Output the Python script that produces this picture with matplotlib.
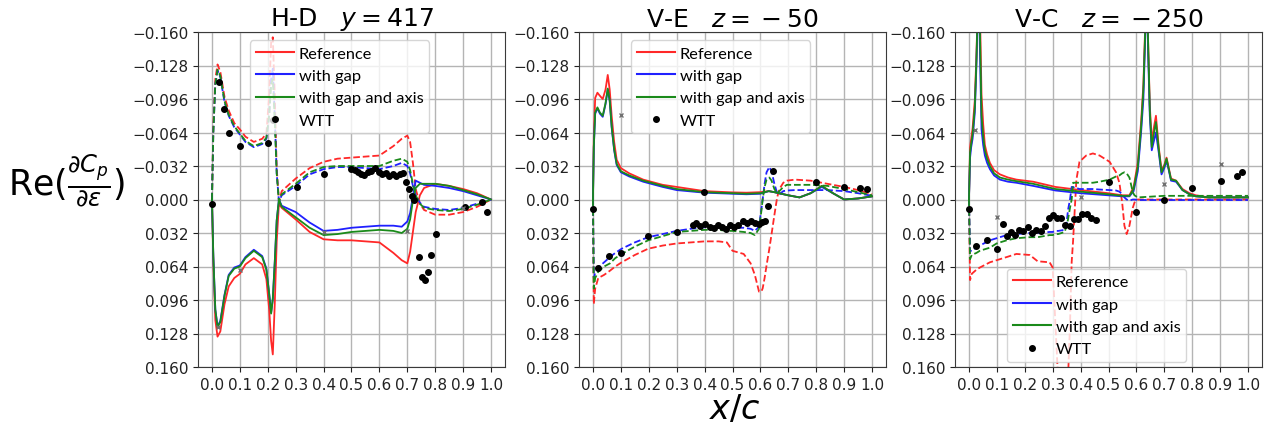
import matplotlib
matplotlib.use("Agg")
import matplotlib.pyplot as plt
from matplotlib.lines import Line2D
from matplotlib.ticker import FixedLocator, FuncFormatter

# ---------------------------------------------------------------- axis setup
yticks = [-0.16, -0.128, -0.096, -0.064, -0.032, 0.0, 0.032, 0.064, 0.096, 0.128, 0.16]
xticks = [0.0, 0.1, 0.2, 0.3, 0.4, 0.5, 0.6, 0.7, 0.8, 0.9, 1.0]
titles = [r"H-D   $y=417$", r"V-E   $z={}-50$", r"V-C   $z={}-250$"]
legend_labels = ["Reference", "with gap", "with gap and axis", "WTT"]

# ---------------------------------------------------------------- H-D, y = 417
hd_x_lower = [0.0, 0.005, 0.012, 0.02, 0.03, 0.045, 0.06, 0.08, 0.10, 0.12, 0.15, 0.18,
              0.195, 0.205, 0.212, 0.218, 0.225, 0.232, 0.24, 0.25, 0.3, 0.35, 0.4, 0.45,
              0.5, 0.55, 0.6, 0.65, 0.68, 0.70, 0.71, 0.72, 0.73, 0.745, 0.76, 0.8, 0.85,
              0.9, 0.95, 1.0]
hd_ref_lower = [0.0, 0.06, 0.115, 0.131, 0.126, 0.100, 0.083, 0.075, 0.071, 0.062, 0.056, 0.062,
                0.076, 0.105, 0.135, 0.148, 0.10, 0.04, 0.004, 0.008, 0.019, 0.031, 0.038, 0.039,
                0.039, 0.040, 0.041, 0.051, 0.058, 0.061, 0.050, 0.031, 0.012, -0.004, -0.011,
                -0.015, -0.013, -0.010, -0.006, 0.0]
hd_gap_lower = [0.0, 0.055, 0.105, 0.121, 0.116, 0.091, 0.072, 0.065, 0.063, 0.055, 0.048, 0.054,
                0.066, 0.09, 0.108, 0.095, 0.06, 0.02, 0.0, 0.006, 0.012, 0.022, 0.030, 0.029,
                0.027, 0.026, 0.025, 0.025, 0.026, 0.021, 0.013, -0.003, -0.018, -0.016, -0.014,
                -0.013, -0.011, -0.008, -0.004, 0.0]
hd_axis_lower = [0.0, 0.055, 0.105, 0.122, 0.117, 0.092, 0.073, 0.066, 0.064, 0.056, 0.049, 0.055,
                 0.067, 0.09, 0.109, 0.095, 0.06, 0.02, 0.0, 0.007, 0.017, 0.027, 0.034, 0.033,
                 0.031, 0.030, 0.029, 0.030, 0.032, 0.028, 0.019, 0.001, -0.011, -0.015, -0.015,
                 -0.015, -0.013, -0.009, -0.005, 0.0]

hd_x_upper = hd_x_lower
hd_ref_upper = [0.0, -0.07, -0.115, -0.129, -0.122, -0.098, -0.085, -0.073, -0.067, -0.060, -0.055,
                -0.058, -0.063, -0.10, -0.15, -0.155, -0.10, -0.03, 0.002, -0.008, -0.020, -0.030,
                -0.036, -0.039, -0.040, -0.041, -0.042, -0.051, -0.058, -0.061, -0.055, -0.035,
                -0.010, 0.004, 0.010, 0.0145, 0.0145, 0.012, 0.007, 0.0]
hd_gap_upper = [0.0, -0.065, -0.11, -0.123, -0.117, -0.093, -0.080, -0.069, -0.062, -0.055, -0.050,
                -0.053, -0.058, -0.08, -0.115, -0.125, -0.08, -0.025, 0.002, -0.004, -0.013, -0.024,
                -0.029, -0.031, -0.031, -0.030, -0.029, -0.032, -0.035, -0.032, -0.025, -0.013,
                -0.004, 0.003, 0.007, 0.009, 0.010, 0.008, 0.004, 0.0]
hd_axis_upper = [0.0, -0.065, -0.11, -0.124, -0.118, -0.094, -0.081, -0.070, -0.063, -0.056, -0.051,
                 -0.054, -0.059, -0.08, -0.11, -0.115, -0.075, -0.025, 0.002, -0.005, -0.015, -0.026,
                 -0.031, -0.032, -0.032, -0.032, -0.032, -0.037, -0.039, -0.036, -0.028, -0.015,
                 -0.004, 0.004, 0.008, 0.010, 0.011, 0.009, 0.005, 0.0]

hd_wtt_x = [0.0, 0.024, 0.044, 0.060, 0.100, 0.200, 0.217, 0.303, 0.400, 0.498, 0.513, 0.522,
            0.534, 0.546, 0.558, 0.570, 0.584, 0.600, 0.608, 0.624, 0.636, 0.648, 0.659, 0.672,
            0.683, 0.695, 0.707, 0.717, 0.725, 0.743, 0.754, 0.763, 0.773, 0.785, 0.803, 0.905,
            0.966, 0.985]
hd_wtt_y = [0.004, -0.112, -0.086, -0.064, -0.051, -0.054, -0.076, -0.012, -0.024, -0.029, -0.0285,
            -0.026, -0.0244, -0.0237, -0.026, -0.0276, -0.030, -0.0266, -0.0244, -0.0253, -0.0228,
            -0.0244, -0.0228, -0.0244, -0.0253, -0.0164, -0.010, -0.0037, 0.0, 0.055, 0.074, 0.077,
            0.069, 0.053, 0.033, 0.007, 0.002, 0.012]
hd_cross_x = [0.02, 0.10, 0.40, 0.70, 0.90]
hd_cross_y = [0.122, 0.067, 0.031, 0.030, 0.008]

# ---------------------------------------------------------------- V-E, z = -50
ve_x_upper = [0.0, 0.003, 0.008, 0.016, 0.025, 0.035, 0.045, 0.053, 0.06, 0.067, 0.076, 0.085, 0.1,
              0.13, 0.18, 0.25, 0.3, 0.4, 0.5, 0.55, 0.6, 0.63, 0.65, 0.7, 0.74, 0.78, 0.82, 0.86,
              0.9, 0.95, 1.0]
ve_ref_upper = [0.0, -0.06, -0.097, -0.102, -0.099, -0.096, -0.105, -0.119, -0.105, -0.080, -0.055,
                -0.038, -0.030, -0.025, -0.019, -0.014, -0.012, -0.008, -0.0068, -0.0065, -0.007,
                -0.008, -0.007, -0.004, -0.002, -0.006, -0.013, -0.006, 0.0, -0.001, -0.003]
ve_gap_upper = [0.0, -0.05, -0.082, -0.087, -0.082, -0.079, -0.091, -0.105, -0.094, -0.069, -0.047,
                -0.033, -0.026, -0.022, -0.017, -0.012, -0.009, -0.0065, -0.0055, -0.005, -0.0055,
                -0.008, -0.007, -0.004, -0.002, -0.006, -0.012, -0.006, 0.0, -0.001, -0.003]
ve_axis_upper = [0.0, -0.05, -0.083, -0.088, -0.083, -0.080, -0.092, -0.106, -0.095, -0.070, -0.048,
                 -0.034, -0.027, -0.023, -0.018, -0.013, -0.010, -0.007, -0.006, -0.0055, -0.006,
                 -0.008, -0.007, -0.004, -0.002, -0.006, -0.013, -0.006, 0.0, -0.001, -0.003]

ve_x_lower = [0.0, 0.003, 0.008, 0.019, 0.04, 0.061, 0.08, 0.103, 0.15, 0.198, 0.25, 0.3, 0.35, 0.4,
              0.45, 0.48, 0.5, 0.54, 0.565, 0.58, 0.595, 0.603, 0.608, 0.615, 0.622, 0.632, 0.64,
              0.65, 0.66, 0.668, 0.682, 0.695, 0.724, 0.78, 0.84, 0.9, 0.95, 1.0]
ve_ref_lower = [0.0, 0.100, 0.085, 0.075, 0.072, 0.068, 0.064, 0.060, 0.053, 0.047, 0.044, 0.042,
                0.041, 0.040, 0.040, 0.041, 0.049, 0.052, 0.061, 0.072, 0.088, 0.088, 0.085, 0.075,
                0.063, 0.047, 0.033, 0.015, -0.002, -0.010, -0.016, -0.018, -0.019, -0.018, -0.015,
                -0.012, -0.009, -0.005]
ve_gap_lower = [0.0, 0.075, 0.070, 0.065, 0.060, 0.055, 0.051, 0.047, 0.041, 0.036, 0.033, 0.030,
                0.028, 0.0265, 0.0265, 0.0265, 0.027, 0.027, 0.028, 0.030, 0.026, 0.010, 0.0, -0.015,
                -0.026, -0.031, -0.027, -0.015, -0.006, -0.005, -0.008, -0.0086, -0.009, -0.009,
                -0.009, -0.008, -0.006, -0.0035]
ve_axis_lower = [0.0, 0.085, 0.075, 0.069, 0.064, 0.061, 0.056, 0.052, 0.045, 0.039, 0.035, 0.031,
                 0.030, 0.029, 0.029, 0.030, 0.030, 0.031, 0.032, 0.034, 0.028, 0.012, 0.0, -0.012,
                 -0.019, -0.021, -0.018, -0.010, -0.006, -0.008, -0.012, -0.014, -0.014, -0.014,
                 -0.013, -0.010, -0.007, -0.004]

ve_wtt_x = [0.0, 0.017, 0.057, 0.100, 0.198, 0.300, 0.357, 0.371, 0.385, 0.402, 0.418, 0.432, 0.447,
            0.463, 0.477, 0.491, 0.506, 0.521, 0.536, 0.551, 0.565, 0.581, 0.596, 0.604, 0.616,
            0.628, 0.398, 0.646, 0.799, 0.899, 0.957, 0.981]
ve_wtt_y = [0.009, 0.065, 0.054, 0.051, 0.035, 0.031, 0.024, 0.022, 0.0255, 0.0233, 0.0265, 0.0275,
            0.024, 0.0265, 0.028, 0.024, 0.0265, 0.024, 0.021, 0.0227, 0.021, 0.0227, 0.023, 0.0218,
            0.021, 0.006, -0.0069, -0.0276, -0.017, -0.012, -0.011, -0.010]
ve_cross_x = [0.10]
ve_cross_y = [-0.081]

# ---------------------------------------------------------------- V-C, z = -250
vc_x_upper = [0.0, 0.004, 0.008, 0.013, 0.021, 0.027, 0.033, 0.038, 0.045, 0.051, 0.057, 0.065, 0.075,
              0.09, 0.111, 0.14, 0.17, 0.23, 0.31, 0.4, 0.5, 0.55, 0.575, 0.59, 0.605, 0.617, 0.625,
              0.632, 0.637, 0.642, 0.648, 0.655, 0.662, 0.67, 0.68, 0.69, 0.7, 0.708, 0.716, 0.724,
              0.742, 0.765, 0.79, 0.813, 0.86, 0.91, 0.96, 1.0]
vc_ref_upper = [0.0, -0.050, -0.058, -0.068, -0.095, -0.14, -0.20, -0.20, -0.10, -0.072, -0.052, -0.043,
                -0.035, -0.028, -0.024, -0.021, -0.019, -0.017, -0.012, -0.009, -0.006, -0.004, -0.004,
                -0.012, -0.035, -0.075, -0.11, -0.17, -0.20, -0.15, -0.09, -0.055, -0.068, -0.080,
                -0.050, -0.028, -0.033, -0.040, -0.030, -0.020, -0.018, -0.010, -0.006, -0.004,
                -0.002, -0.002, -0.002, -0.002]
vc_gap_upper = [0.0, -0.040, -0.050, -0.058, -0.083, -0.13, -0.20, -0.16, -0.067, -0.052, -0.042, -0.035,
                -0.029, -0.023, -0.019, -0.017, -0.016, -0.013, -0.0086, -0.006, -0.004, -0.003, -0.003,
                -0.008, -0.027, -0.065, -0.096, -0.16, -0.20, -0.14, -0.08, -0.047, -0.055, -0.064,
                -0.045, -0.024, -0.030, -0.037, -0.028, -0.018, -0.017, -0.009, -0.005, -0.003,
                -0.002, -0.002, -0.002, -0.002]
vc_axis_upper = [0.0, -0.045, -0.053, -0.062, -0.088, -0.135, -0.20, -0.18, -0.08, -0.060, -0.047, -0.039,
                 -0.032, -0.025, -0.021, -0.019, -0.0175, -0.015, -0.010, -0.0075, -0.005, -0.0035,
                 -0.0035, -0.010, -0.031, -0.070, -0.105, -0.165, -0.20, -0.15, -0.085, -0.050, -0.062,
                 -0.074, -0.048, -0.026, -0.032, -0.039, -0.029, -0.019, -0.018, -0.009, -0.005,
                 -0.003, -0.002, -0.002, -0.002, -0.002]

vc_x_lower = [0.0, 0.004, 0.01, 0.027, 0.039, 0.075, 0.099, 0.135, 0.17, 0.218, 0.246, 0.289, 0.30,
              0.31, 0.32, 0.343, 0.35, 0.355, 0.362, 0.368, 0.373, 0.379, 0.385, 0.396, 0.42, 0.444,
              0.468, 0.504, 0.527, 0.539, 0.549, 0.557, 0.565, 0.575, 0.587, 0.593, 0.605, 0.7, 0.8,
              0.9, 1.0]
vc_ref_lower = [0.0, 0.077, 0.071, 0.067, 0.065, 0.060, 0.058, 0.055, 0.052, 0.053, 0.059, 0.060, 0.065,
                0.12, 0.175, 0.175, 0.175, 0.17, 0.12, 0.06, 0.04, 0.01, -0.019, -0.036, -0.042,
                -0.044, -0.042, -0.036, -0.026, -0.016, 0.003, 0.025, 0.033, 0.025, 0.008, 0.003,
                0.0, 0.0, 0.0, 0.0, 0.0]
vc_gap_lower = [0.0, 0.050, 0.048, 0.046, 0.044, 0.039, 0.037, 0.034, 0.033, 0.032, 0.032, 0.031, 0.031,
                0.030, 0.030, 0.029, 0.022, 0.010, 0.0, -0.012, -0.012, -0.011, -0.011, -0.010, -0.010,
                -0.010, -0.0095, -0.009, -0.0086, -0.0075, -0.005, -0.002, 0.0, 0.001, 0.0, 0.0,
                0.0005, 0.0005, 0.0005, 0.0005, 0.0005]
vc_axis_lower = [0.0, 0.057, 0.053, 0.051, 0.049, 0.046, 0.042, 0.039, 0.037, 0.036, 0.036, 0.034, 0.034,
                 0.033, 0.033, 0.031, 0.025, 0.019, 0.008, 0.0, -0.016, -0.016, -0.016, -0.016, -0.016,
                 -0.016, -0.017, -0.019, -0.022, -0.023, -0.025, -0.026, -0.025, -0.021, -0.007,
                 -0.004, -0.002, -0.0035, -0.0035, -0.0035, -0.0035]

vc_wtt_x = [0.0, 0.025, 0.063, 0.101, 0.122, 0.137, 0.152, 0.166, 0.180, 0.194, 0.212, 0.227, 0.241,
            0.257, 0.271, 0.287, 0.301, 0.316, 0.330, 0.345, 0.361, 0.377, 0.391, 0.406, 0.423, 0.438,
            0.454, 0.501, 0.599, 0.700, 0.799, 0.902, 0.962, 0.980]
vc_wtt_y = [0.009, 0.044, 0.039, 0.047, 0.023, 0.035, 0.031, 0.034, 0.029, 0.030, 0.0265, 0.032, 0.0295,
            0.030, 0.025, 0.018, 0.0148, 0.018, 0.018, 0.024, 0.025, 0.019, 0.019, 0.014, 0.014, 0.018,
            0.020, -0.017, 0.012, 0.0, -0.011, -0.018, -0.022, -0.026]
vc_cross_x = [0.021, 0.101, 0.403, 0.70, 0.902]
vc_cross_y = [-0.066, 0.017, -0.002, -0.015, -0.034]

# ---------------------------------------------------------------- drawing
panels = [
    dict(xu=hd_x_upper, up=[hd_ref_upper, hd_gap_upper, hd_axis_upper],
         xl=hd_x_lower, lo=[hd_ref_lower, hd_gap_lower, hd_axis_lower],
         wx=hd_wtt_x, wy=hd_wtt_y, cx=hd_cross_x, cy=hd_cross_y,
         solid="lower", leg=dict(loc="upper left", bbox_to_anchor=(0.17, 0.975))),
    dict(xu=ve_x_upper, up=[ve_ref_upper, ve_gap_upper, ve_axis_upper],
         xl=ve_x_lower, lo=[ve_ref_lower, ve_gap_lower, ve_axis_lower],
         wx=ve_wtt_x, wy=ve_wtt_y, cx=ve_cross_x, cy=ve_cross_y,
         solid="upper", leg=dict(loc="upper left", bbox_to_anchor=(0.17, 0.975))),
    dict(xu=vc_x_upper, up=[vc_ref_upper, vc_gap_upper, vc_axis_upper],
         xl=vc_x_lower, lo=[vc_ref_lower, vc_gap_lower, vc_axis_lower],
         wx=vc_wtt_x, wy=vc_wtt_y, cx=vc_cross_x, cy=vc_cross_y,
         solid="upper", leg=dict(loc="lower left", bbox_to_anchor=(0.17, 0.015))),
]
colors = ["#ff2828", "#2020ff", "#1a8a1a"]
lefts = [198 / 1273, 579 / 1273, 955 / 1273]
width = 307 / 1273
bottom = 1 - 368 / 431
height = 335 / 431

fig = plt.figure(figsize=(12.73, 4.31), dpi=100)
fmt = FuncFormatter(lambda v, p: ("%.3f" % v).replace("-", "\u2212"))

for i, p in enumerate(panels):
    ax = fig.add_axes([lefts[i], bottom, width, height])
    for k, c in enumerate(colors):
        ls_u = "-" if p["solid"] == "upper" else "--"
        ls_l = "-" if p["solid"] == "lower" else "--"
        ax.plot(p["xu"], p["up"][k], color=c, lw=1.3, ls=ls_u)
        ax.plot(p["xl"], p["lo"][k], color=c, lw=1.3, ls=ls_l)
    ax.plot(p["wx"], p["wy"], "o", color="black", ms=4.0, zorder=5)
    ax.plot(p["cx"], p["cy"], "x", color="#707070", ms=3.5, mew=1.0, zorder=5)

    ax.set_xlim(-0.05, 1.05)
    ax.set_ylim(0.16, -0.16)
    ax.yaxis.set_major_locator(FixedLocator(yticks))
    ax.yaxis.set_major_formatter(fmt)
    ax.xaxis.set_major_locator(FixedLocator(xticks))
    ax.xaxis.set_major_formatter(FuncFormatter(lambda v, p: "%.1f" % v))
    ax.tick_params(labelsize=11, colors="#222222")
    ax.grid(True, color="#b4b4b4", lw=1.0)
    for s in ax.spines.values():
        s.set_color("#3a3a3a")
    ax.set_title(titles[i], fontsize=18, pad=4)

    handles = [Line2D([], [], color=c, lw=1.5) for c in colors]
    handles.append(Line2D([], [], color="black", marker="o", ms=4.0, ls="none"))
    ax.legend(handles, legend_labels, prop=dict(family="Lato", size=11.8),
              labelspacing=0.48, borderpad=0.35, handlelength=2.3, handletextpad=0.3,
              borderaxespad=0.0, **p["leg"])

fig.text(0.052, 0.578, r"Re($\frac{\partial C_p}{\partial \varepsilon}$)",
         fontsize=25, ha="center", va="center")
fig.text(0.577, 0.05, r"$x/c$", fontsize=24, ha="center", va="center")

fig.savefig("out.png", dpi=100)
